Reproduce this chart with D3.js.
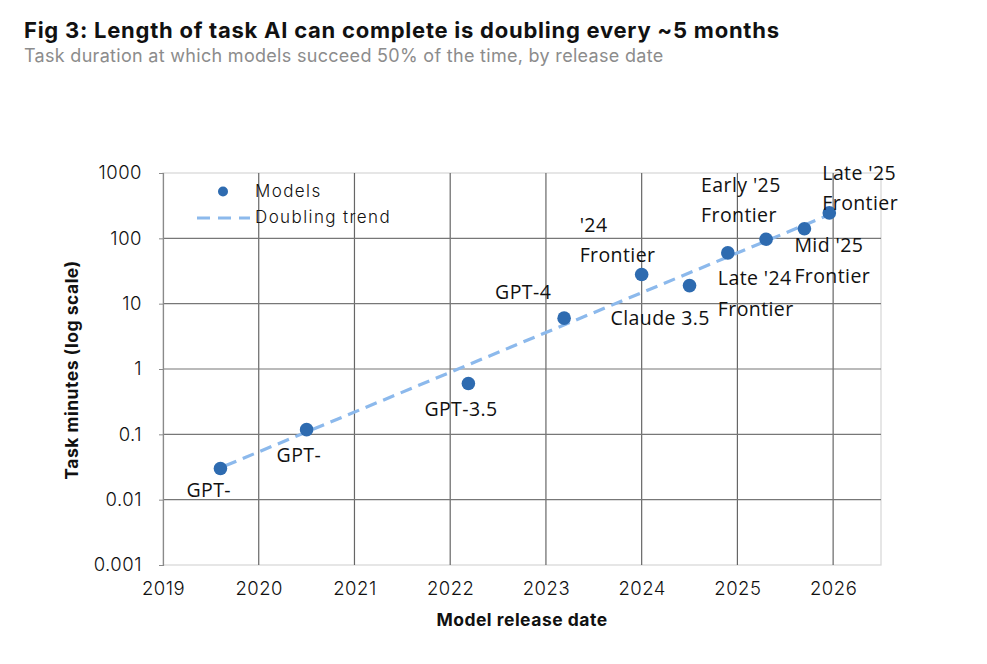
<!DOCTYPE html>
<html>
<head>
<meta charset="utf-8">
<script src="https://cdn.jsdelivr.net/npm/d3@7"></script>
<style>
  body { margin: 0; background: #fff; }
  svg { display: block; }
</style>
</head>
<body>
<div id="chart"></div>
<script>
// data
const models = ["GPT-", "GPT-", "GPT-3.5", "GPT-4", "'24 Frontier", "Claude 3.5",
                "Late '24 Frontier", "Early '25 Frontier", "Mid '25 Frontier", "Late '25 Frontier"];
const releaseYears = [2019.6, 2020.5, 2022.19, 2023.19, 2024.0, 2024.5, 2024.9, 2025.3, 2025.7, 2025.96];
const taskMinutes = [0.030, 0.118, 0.6, 6.0, 28, 18.9, 60, 97, 140, 245];
const trendYears = [2019.65, 2026.0];
const trendMinutes = [0.033, 243];
const xTicks = [2019, 2020, 2021, 2022, 2023, 2024, 2025, 2026];
const yTicks = [0.001, 0.01, 0.1, 1, 10, 100, 1000];

// label placement (pixel offsets from the point, text-anchor start)
const labelOffsets = [
  { dx: -34, dy: [29] },
  { dx: -30, dy: [32] },
  { dx: -44, dy: [33] },
  { dx: -69, dy: [-19] },
  { dx: -62, dy: [-42, -12] },
  { dx: -79, dy: [39] },
  { dx: -10, dy: [32, 63] },
  { dx: -65, dy: [-47, -17] },
  { dx: -10, dy: [23, 54] },
  { dx: -7,  dy: [-33, -3] }
];

const W = 987, H = 664;
const margin = { top: 173, right: 106, bottom: 99, left: 163 },
      width = W - margin.left - margin.right,
      height = H - margin.top - margin.bottom;

const axisFont = "Inter, 'Open Sans', sans-serif";
const labelFont = "'Open Sans', 'Noto Sans', sans-serif";

const svg = d3.select("#chart")
  .append("svg")
    .attr("width", W)
    .attr("height", H);

// title + subtitle
svg.append("text")
    .attr("x", 24).attr("y", 38)
    .attr("font-family", axisFont)
    .attr("font-size", "22px")
    .attr("font-weight", 700)
    .attr("letter-spacing", "0.75px")
    .attr("fill", "#111")
    .text("Fig 3: Length of task AI can complete is doubling every ~5 months");

svg.append("text")
    .attr("x", 24).attr("y", 62)
    .attr("font-family", axisFont)
    .attr("font-size", "18px")
    .attr("letter-spacing", "0.3px")
    .attr("fill", "#8c8c8c")
    .text("Task duration at which models succeed 50% of the time, by release date");

const g = svg.append("g")
    .attr("transform", `translate(${margin.left},${margin.top})`);

// scales
const x = d3.scaleLinear()
  .domain([2019, 2026.5])
  .range([0, width]);

const y = d3.scaleLog()
  .domain([0.001, 1000])
  .range([height, 0]);

// frame (light)
g.append("rect")
    .attr("x", 0).attr("y", 0)
    .attr("width", width).attr("height", height)
    .attr("fill", "none")
    .attr("stroke", "#d9d9d9")
    .attr("stroke-width", 1.3);

// gridlines
g.selectAll(".vgrid")
  .data(xTicks.slice(1))
  .enter()
  .append("line")
    .attr("x1", d => x(d)).attr("x2", d => x(d))
    .attr("y1", 0).attr("y2", height)
    .attr("stroke", "#666")
    .attr("stroke-width", 1.2);

g.selectAll(".hgrid")
  .data(yTicks.slice(1, -1))
  .enter()
  .append("line")
    .attr("x1", 0).attr("x2", width)
    .attr("y1", d => y(d)).attr("y2", d => y(d))
    .attr("stroke", "#777")
    .attr("stroke-width", 1.2);

// y axis
const yAxis = g.append("g")
  .call(d3.axisLeft(y)
    .tickValues(yTicks)
    .tickFormat(d => String(d))
    .tickSize(4)
    .tickPadding(17));
yAxis.select(".domain").attr("stroke", "#8a8a8a").attr("stroke-width", 1.2);
yAxis.selectAll(".tick line").attr("stroke", "#8a8a8a");
yAxis.selectAll(".tick text")
    .attr("font-family", axisFont)
    .attr("font-size", "18.5px")
    .attr("font-weight", 300)
    .attr("letter-spacing", "0.5px")
    .attr("fill", "#111");

// x axis
const xAxis = g.append("g")
    .attr("transform", `translate(0,${height})`)
  .call(d3.axisBottom(x)
    .tickValues(xTicks)
    .tickFormat(d3.format("d"))
    .tickSize(0)
    .tickPadding(17));
xAxis.select(".domain").remove();
xAxis.selectAll(".tick text")
    .attr("font-family", axisFont)
    .attr("font-size", "18.5px")
    .attr("font-weight", 300)
    .attr("letter-spacing", "0.5px")
    .attr("fill", "#111");

// axis titles
g.append("text")
    .attr("x", width / 2)
    .attr("y", height + 61)
    .attr("text-anchor", "middle")
    .attr("font-family", axisFont)
    .attr("font-size", "17.5px")
    .attr("font-weight", 700)
    .attr("letter-spacing", "0.5px")
    .attr("fill", "#111")
    .text("Model release date");

g.append("text")
    .attr("transform", `translate(${-85},${height / 2 + 1}) rotate(-90)`)
    .attr("text-anchor", "middle")
    .attr("font-family", axisFont)
    .attr("font-size", "17.5px")
    .attr("font-weight", 700)
    .attr("letter-spacing", "0.5px")
    .attr("fill", "#111")
    .text("Task minutes (log scale)");

// trend line
const trend = trendYears.map((t, i) => [t, trendMinutes[i]]);
g.append("path")
    .datum(trend)
    .attr("fill", "none")
    .attr("stroke", "#8cb9ec")
    .attr("stroke-width", 3.2)
    .attr("stroke-dasharray", "12,7")
    .attr("d", d3.line().x(d => x(d[0])).y(d => y(d[1])));

// points
const points = models.map((m, i) => ({ name: m, year: releaseYears[i], value: taskMinutes[i], off: labelOffsets[i] }));

g.selectAll(".pt")
  .data(points)
  .enter()
  .append("circle")
    .attr("cx", d => x(d.year))
    .attr("cy", d => y(d.value))
    .attr("r", 6.8)
    .attr("fill", "#2e6bb0");

// labels
const labels = g.selectAll(".lbl")
  .data(points)
  .enter()
  .append("text")
    .attr("font-family", labelFont)
    .attr("font-size", "19.5px")
    .attr("letter-spacing", "0.4px")
    .attr("fill", "#111");

labels.each(function(d) {
  const cut = d.name.lastIndexOf(" ");
  const lines = d.off.dy.length > 1 ? [d.name.slice(0, cut), d.name.slice(cut + 1)] : [d.name];
  const t = d3.select(this);
  lines.forEach((ln, k) => {
    t.append("tspan")
      .attr("x", x(d.year) + d.off.dx)
      .attr("y", y(d.value) + d.off.dy[k])
      .text(ln);
  });
});

// legend
const leg = svg.append("g");
leg.append("circle")
    .attr("cx", 223).attr("cy", 191.5).attr("r", 5)
    .attr("fill", "#2e6bb0");
leg.append("text")
    .attr("x", 255).attr("y", 197)
    .attr("font-family", axisFont)
    .attr("font-size", "17px")
    .attr("font-weight", 300)
    .attr("letter-spacing", "1.4px")
    .attr("fill", "#111")
    .text("Models");
leg.append("line")
    .attr("x1", 197).attr("x2", 250)
    .attr("y1", 218).attr("y2", 218)
    .attr("stroke", "#8cb9ec")
    .attr("stroke-width", 3.2)
    .attr("stroke-dasharray", "13,8");
leg.append("text")
    .attr("x", 255).attr("y", 223)
    .attr("font-family", axisFont)
    .attr("font-size", "17px")
    .attr("font-weight", 300)
    .attr("letter-spacing", "1.4px")
    .attr("fill", "#111")
    .text("Doubling trend");
</script>
</body>
</html>
